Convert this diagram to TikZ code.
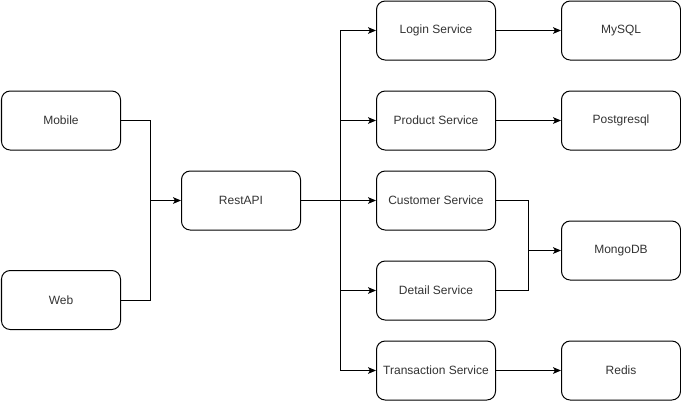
\documentclass[tikz,border=0pt]{standalone}
\usepackage{fontspec}
\setmainfont{Liberation Sans}
\usetikzlibrary{arrows.meta}
\begin{document}
\begin{tikzpicture}[x=0.75pt,y=-0.75pt,
  box/.style={draw=black,line width=0.75pt,rounded corners=6.5pt,minimum width=89.25pt,minimum height=44.25pt,inner sep=0pt,font=\fontsize{9}{11}\selectfont,text=black!80,fill=white},
  conn/.style={draw=black,line width=0.75pt,-{Stealth[length=6pt,width=5pt,inset=1.5pt]}},
  plain/.style={draw=black,line width=0.75pt}]
\useasboundingbox (0,0) rectangle (681,401);
\node[box] (mobile) at (61,120.5) {Mobile};
\node[box] (web) at (61,300) {Web};
\node[box] (rest) at (241,200.5) {RestAPI};
\node[box] (login) at (436,30.5) {Login Service};
\node[box] (product) at (436,120.5) {Product Service};
\node[box] (customer) at (436,200.5) {Customer Service};
\node[box] (detail) at (436,290.5) {Detail Service};
\node[box] (trans) at (436,370.5) {Transaction Service};
\node[box] (mysql) at (621,30.5) {MySQL};
\node[box] (pg) at (621,120.5) {Postgresql};
\node[box] (mongo) at (621,250.5) {MongoDB};
\node[box] (redis) at (621,370.5) {Redis};
\coordinate (j1) at (150,200.5);
\coordinate (j2) at (340,200.5);
\coordinate (j3) at (528,250.5);
\draw[conn] (mobile.east) -| (j1) -- (rest.west);
\draw[plain] (web.east) -| (j1);
\draw[conn] (rest.east) -- (j2) |- (login.west);
\draw[conn] (j2) |- (product.west);
\draw[conn] (j2) -- (customer.west);
\draw[conn] (j2) |- (detail.west);
\draw[conn] (j2) |- (trans.west);
\draw[conn] (login.east) -- (mysql.west);
\draw[conn] (product.east) -- (pg.west);
\draw[conn] (customer.east) -| (j3) -- (mongo.west);
\draw[plain] (detail.east) -| (j3);
\draw[conn] (trans.east) -- (redis.west);
\end{tikzpicture}
\end{document}
